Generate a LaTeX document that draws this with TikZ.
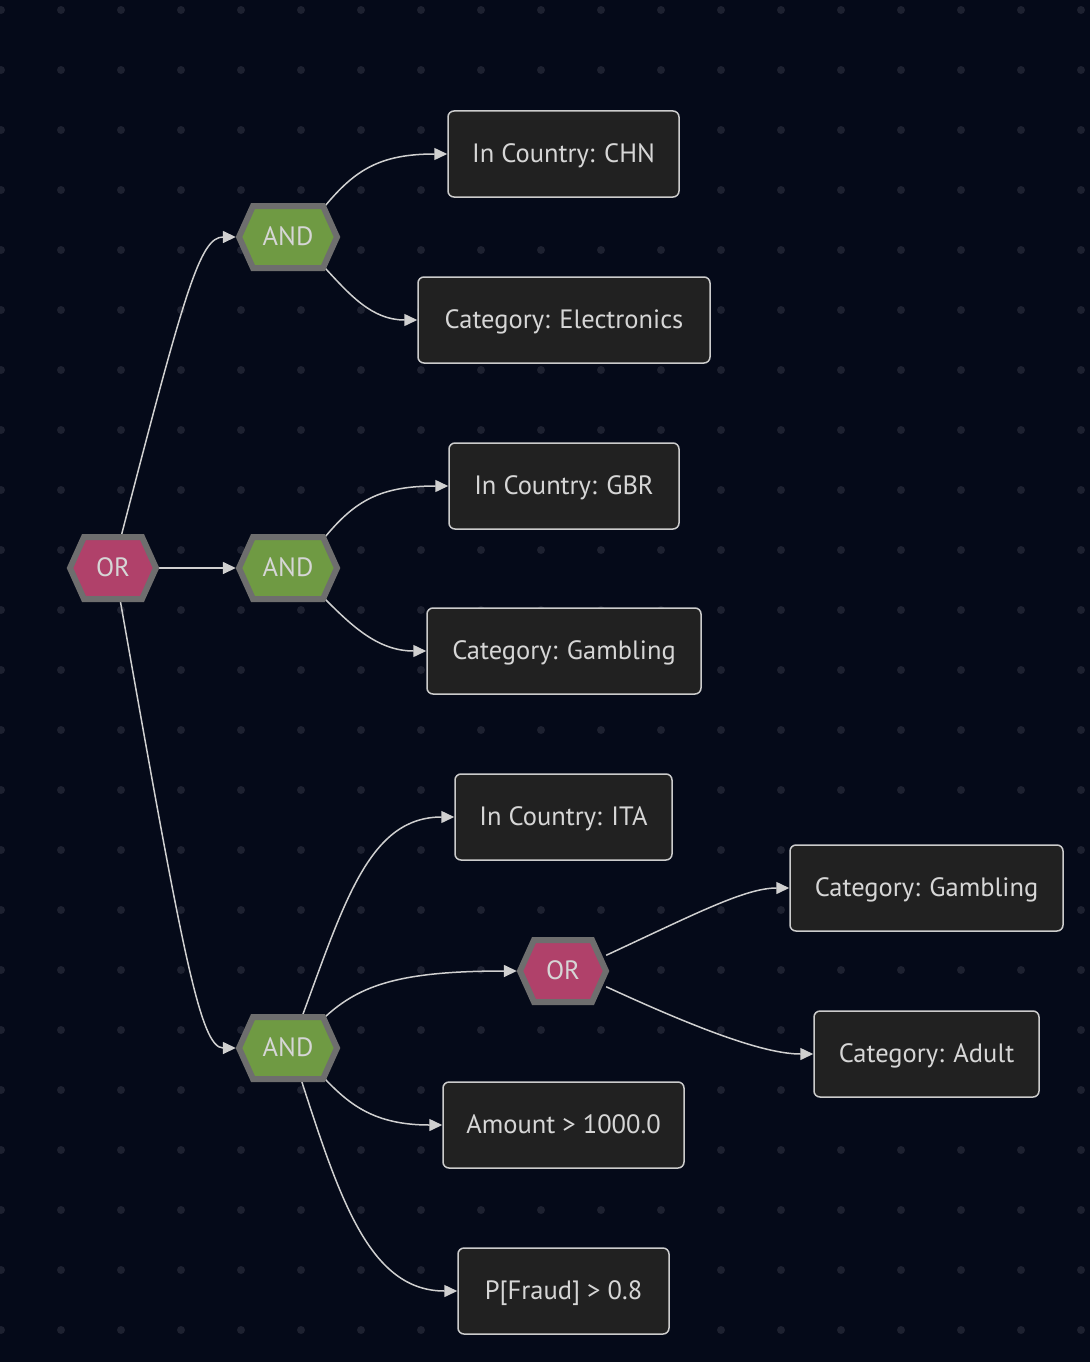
\documentclass[tikz,border=0pt]{standalone}
\usepackage{fontspec}
\setmainfont{PT Sans}
\usetikzlibrary{arrows.meta,calc}
\definecolor{bgc}{HTML}{050A19}
\definecolor{dotc}{HTML}{1D2130}
\definecolor{boxfill}{HTML}{212121}
\definecolor{boxline}{HTML}{CCCCCC}
\definecolor{txt}{HTML}{D6D6D6}
\definecolor{edgec}{HTML}{D0D0D0}
\definecolor{hexb}{HTML}{6E6E6E}
\definecolor{orfill}{HTML}{B0416A}
\definecolor{andfill}{HTML}{6F9A43}
\pgfdeclarelayer{bg}
\pgfdeclarelayer{edgelayer}
\pgfsetlayers{bg,edgelayer,main}
% name, x, y, half width, fill colour, text
\newcommand\hexnode[6]{%
  \fill[#5, draw=hexb, line width=6pt, line join=miter]
    ({#2-#4},#3) -- ({#2-#4+14},{#3-31}) -- ({#2+#4-14},{#3-31}) --
    ({#2+#4},#3) -- ({#2+#4-14},{#3+31}) -- ({#2-#4+14},{#3+31}) -- cycle;
  \node[hexlabel, minimum width={2*#4}] (#1) at (#2,#3) {#6};
}
\begin{document}
\begin{tikzpicture}[x=1pt,y=-1pt,
  box/.style={draw=boxline, fill=boxfill, line width=1.5pt, rounded corners=6pt,
    minimum height=86pt, inner sep=0pt, text=txt, text height=18pt, text depth=2pt,
    font=\fontsize{26.5}{30}\selectfont},
  hexlabel/.style={inner sep=0pt, minimum height=62pt, text=txt,
    text height=18pt, text depth=2pt, font=\fontsize{26.5}{30}\selectfont},
  edge/.style={draw=edgec, line width=1.5pt, -{Triangle[length=13pt,width=12pt]}},
]
\useasboundingbox (0,0) rectangle (1090,1362);
\begin{pgfonlayer}{bg}
  \fill[bgc] (0,0) rectangle (1090,1362);
  \foreach \i in {0,...,18}
    \foreach \j in {0,...,22}
      \fill[dotc] ({1+60*\i},{10+60*\j}) circle[radius=4pt];
\end{pgfonlayer}

% hexagon nodes
\hexnode{root}{113}{568}{43}{orfill}{OR}
\hexnode{and1}{288}{237}{49}{andfill}{AND}
\hexnode{and2}{288}{568}{49}{andfill}{AND}
\hexnode{and3}{288}{1048}{49}{andfill}{AND}
\hexnode{or2}{563}{971}{43}{orfill}{OR}

% box nodes
\node[box, minimum width=231pt] (chn) at (563.5,154) {In Country: CHN};
\node[box, minimum width=292pt] (elec) at (564,320) {Category: Electronics};
\node[box, minimum width=230pt] (gbr) at (564,486) {In Country: GBR};
\node[box, minimum width=274pt] (gamb1) at (564,651) {Category: Gambling};
\node[box, minimum width=217pt] (ita) at (563.5,817) {In Country: ITA};
\node[box, minimum width=273pt] (gamb2) at (926.5,888) {Category: Gambling};
\node[box, minimum width=225pt] (adult) at (926.5,1054) {Category: Adult};
\node[box, minimum width=241pt] (amount) at (563.5,1125) {Amount > 1000.0};
\node[box, minimum width=211pt] (fraud) at (563.5,1291) {P[Fraud] > 0.8};

% edges
\begin{pgfonlayer}{edgelayer}
  \draw[edge] ([xshift=8pt]root.north) .. controls (185,290) and (200,237) .. ([xshift=-3pt]and1.west);
  \draw[edge] (root.east) -- ([xshift=-3pt]and2.west);
  \draw[edge] ([xshift=7pt]root.south) .. controls (182,950) and (200,1048) .. ([xshift=-3pt]and3.west);

  \draw[edge] ([xshift=-12pt]and1.north east) .. controls (355,170) and (380,154) .. (chn.west);
  \draw[edge] ([xshift=-12pt]and1.south east) .. controls (350,295) and (372,320) .. (elec.west);

  \draw[edge] ([xshift=-12pt]and2.north east) .. controls (355,501) and (380,486) .. (gbr.west);
  \draw[edge] ([xshift=-12pt]and2.south east) .. controls (352,626) and (378,651) .. (gamb1.west);

  \draw[edge] ([xshift=14pt]and3.north) .. controls (345,900) and (370,817) .. (ita.west);
  \draw[edge] ([xshift=-12pt]and3.north east) .. controls (360,985) and (400,971) .. ([xshift=-3pt]or2.west);
  \draw[edge] ([xshift=-12pt]and3.south east) .. controls (350,1105) and (375,1125) .. (amount.west);
  \draw[edge] ([xshift=13pt]and3.south) .. controls (340,1200) and (370,1291) .. (fraud.west);

  \draw[edge] (or2.20) .. controls (695,914) and (745,888) .. (gamb2.west);
  \draw[edge] (or2.-20) .. controls (700,1030) and (765,1054) .. (adult.west);
\end{pgfonlayer}
\end{tikzpicture}
\end{document}
